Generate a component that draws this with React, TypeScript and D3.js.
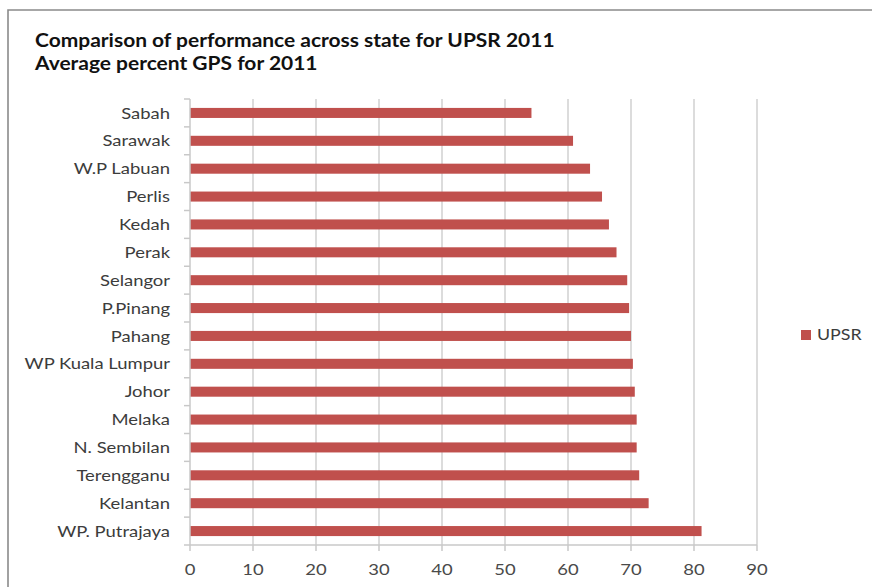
import React, { useEffect, useRef } from "react";
import * as d3 from "d3";

const states = [
  "Sabah", "Sarawak", "W.P Labuan", "Perlis", "Kedah", "Perak", "Selangor", "P.Pinang",
  "Pahang", "WP Kuala Lumpur", "Johor", "Melaka", "N. Sembilan", "Terengganu", "Kelantan", "WP. Putrajaya",
];
const upsr = [54.2, 60.8, 63.5, 65.4, 66.5, 67.7, 69.4, 69.7, 70.0, 70.3, 70.6, 70.9, 70.9, 71.3, 72.8, 81.2];
const xTicks = [0, 10, 20, 30, 40, 50, 60, 70, 80, 90];
const titleLines = ["Comparison of performance across state for UPSR 2011", "Average percent GPS for 2011"];
const seriesName = "UPSR";

const W = 872;
const H = 587;
const FONT = "Lato, 'Open Sans', sans-serif";
const BAR = "#c0504d";
// text is drawn a little wider than the font's natural width
const SX_TITLE = 1.165;
const SX_LABEL = 1.19;

export default function App() {
  const ref = useRef<SVGSVGElement>(null);

  useEffect(() => {
    const svg = d3.select(ref.current);
    svg.selectAll("*").remove();

    const left = 190, right = 757, top = 99, bottom = 545;
    const x = d3.scaleLinear().domain([0, 90]).range([left, right]);
    const y = d3.scaleBand().domain(states).range([top, bottom]).paddingInner(0.64).paddingOuter(0.32);

    svg.append("rect").attr("width", W).attr("height", H).attr("fill", "#fff");

    // outer chart frame (top and left edges visible)
    svg.append("path")
      .attr("d", `M8,${H + 2} V10 H${W + 2}`)
      .attr("fill", "none").attr("stroke", "#8a8a8a").attr("stroke-width", 1.6);

    // titles
    svg.append("g").selectAll("text").data(titleLines).join("text")
      .attr("transform", (_, i) => `translate(35,${46.5 + i * 23.5}) scale(${SX_TITLE},1)`)
      .attr("font-family", FONT).attr("font-weight", "bold").attr("font-size", 18)
      .attr("fill", "#111").text(d => d);

    // vertical gridlines
    svg.append("g").selectAll("line").data(xTicks.slice(1)).join("line")
      .attr("x1", d => x(d)).attr("x2", d => x(d)).attr("y1", top).attr("y2", bottom)
      .attr("stroke", "#d0d0d0").attr("stroke-width", 1.5);

    // bars
    svg.append("g").selectAll("rect").data(states).join("rect")
      .attr("x", x(0)).attr("y", d => y(d)!)
      .attr("width", (_, i) => x(upsr[i]) - x(0)).attr("height", y.bandwidth())
      .attr("fill", BAR);

    // category axis
    const axisColor = "#c8c8c8";
    const cat = svg.append("g");
    cat.append("line").attr("x1", left).attr("x2", left).attr("y1", top).attr("y2", bottom)
      .attr("stroke", axisColor).attr("stroke-width", 1.5);
    const boundaries = d3.range(states.length + 1).map(i => top + i * ((bottom - top) / states.length));
    cat.selectAll("line.tick").data(boundaries).join("line").attr("class", "tick")
      .attr("x1", left - 6).attr("x2", left).attr("y1", d => d).attr("y2", d => d)
      .attr("stroke", axisColor).attr("stroke-width", 1.5);
    cat.selectAll("text").data(states).join("text")
      .attr("transform", d => `translate(170,${y(d)! + y.bandwidth() / 2}) scale(${SX_LABEL},1)`)
      .attr("dy", "0.36em").attr("text-anchor", "end")
      .attr("font-family", FONT).attr("font-size", 15.5).attr("fill", "#3c3c3c")
      .text(d => d);

    // value axis
    const val = svg.append("g");
    val.append("line").attr("x1", left).attr("x2", right).attr("y1", bottom).attr("y2", bottom)
      .attr("stroke", axisColor).attr("stroke-width", 1.5);
    val.selectAll("line.tick").data(xTicks).join("line").attr("class", "tick")
      .attr("x1", d => x(d)).attr("x2", d => x(d)).attr("y1", bottom).attr("y2", bottom + 6)
      .attr("stroke", axisColor).attr("stroke-width", 1.5);
    val.selectAll("text").data(xTicks).join("text")
      .attr("transform", d => `translate(${x(d)},575) scale(${SX_LABEL},1)`)
      .attr("text-anchor", "middle")
      .attr("font-family", FONT).attr("font-size", 15.5).attr("fill", "#4a4a4a")
      .text(d => String(d));

    // legend
    const lg = svg.append("g");
    lg.append("rect").attr("x", 801).attr("y", 330).attr("width", 10).attr("height", 10).attr("fill", BAR);
    lg.append("text").attr("transform", `translate(817,335) scale(${SX_LABEL},1)`).attr("dy", "0.36em")
      .attr("font-family", FONT).attr("font-size", 15).attr("fill", "#3c3c3c").text(seriesName);
  }, []);

  return (
    <svg ref={ref} width={W} height={H} style={{ position: "absolute", left: 0, top: 0 }} />
  );
}
